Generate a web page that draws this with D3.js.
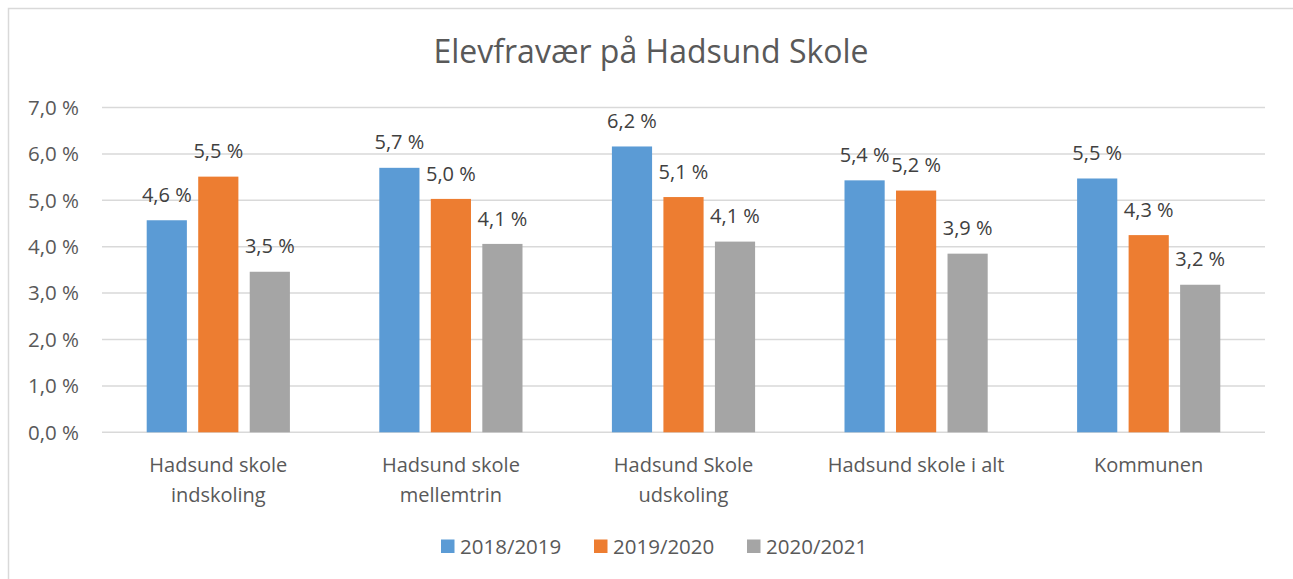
<!DOCTYPE html>
<html>
  <head>
    <meta charset="utf-8">
    <title>Elevfravær på Hadsund Skole</title>
    <script src="https://d3js.org/d3.v7.min.js"></script>
    <style>
      body { margin: 0; background: #fff; }
      text { font-family: "Open Sans", sans-serif; fill: #595959; }
    </style>
  </head>
  <body>
    <div id="chart"></div>
    <script>
      // data
      const categories = [
        ["Hadsund skole", "indskoling"],
        ["Hadsund skole", "mellemtrin"],
        ["Hadsund Skole", "udskoling"],
        ["Hadsund skole i alt"],
        ["Kommunen"]
      ];
      const seriesNames = ["2018/2019", "2019/2020", "2020/2021"];
      const colors = ["#5B9BD5", "#ED7D31", "#A5A5A5"];
      const s2018 = [4.57, 5.70, 6.16, 5.43, 5.47];
      const s2019 = [5.51, 5.03, 5.07, 5.21, 4.25];
      const s2020 = [3.46, 4.06, 4.11, 3.85, 3.18];
      const yTicks = [0, 1, 2, 3, 4, 5, 6, 7];

      const series = [s2018, s2019, s2020];
      const width = 1293, height = 579;
      const margin = { top: 107.5, right: 28, bottom: 146.7, left: 102 };

      const svg = d3.select("#chart")
        .append("svg")
          .attr("width", width)
          .attr("height", height);

      // chart frame
      svg.append("rect")
        .attr("x", 8.5)
        .attr("y", 8.5)
        .attr("width", width + 20)
        .attr("height", height + 20)
        .style("fill", "none")
        .style("stroke", "#d9d9d9")
        .style("stroke-width", 1.5);

      svg.append("text")
        .attr("x", 651)
        .attr("y", 63)
        .attr("text-anchor", "middle")
        .style("font-size", "32px")
        .text("Elevfravær på Hadsund Skole");

      const y = d3.scaleLinear()
        .domain([0, 7])
        .range([height - margin.bottom, margin.top]);
      const x0 = d3.scaleBand()
        .domain(d3.range(categories.length))
        .range([margin.left, width - margin.right]);
      const groupWidth = 143.2;
      const x1 = d3.scaleBand()
        .domain(d3.range(series.length))
        .range([0, groupWidth])
        .paddingInner(0.22);

      const fmt = function(v) { return d3.format(".1f")(v).replace(".", ",") + " %"; };

      // gridlines and y labels
      const grid = svg.append("g");
      grid.selectAll("line")
          .data(yTicks)
        .enter().append("line")
          .attr("x1", margin.left)
          .attr("x2", width - margin.right)
          .attr("y1", function(d) { return y(d); })
          .attr("y2", function(d) { return y(d); })
          .style("stroke", "#d9d9d9")
          .style("stroke-width", 1.5);
      grid.selectAll("text")
          .data(yTicks)
        .enter().append("text")
          .attr("x", 79)
          .attr("y", function(d) { return y(d); })
          .attr("dy", "0.36em")
          .attr("text-anchor", "end")
          .style("font-size", "20.5px")
          .text(fmt);

      // bars
      const groups = svg.selectAll(".group")
          .data(categories)
        .enter().append("g")
          .classed("group", true)
          .attr("transform", function(d, i) {
            return "translate(" + (x0(i) + (x0.bandwidth() - groupWidth) / 2) + ",0)";
          });
      groups.selectAll("rect")
          .data(function(d, i) { return series.map(function(s, j) { return { s: j, v: s[i] }; }); })
        .enter().append("rect")
          .attr("x", function(d) { return x1(d.s); })
          .attr("y", function(d) { return y(d.v); })
          .attr("width", x1.bandwidth())
          .attr("height", function(d) { return y(0) - y(d.v); })
          .style("fill", function(d) { return colors[d.s]; });
      groups.selectAll(".label")
          .data(function(d, i) { return series.map(function(s, j) { return { s: j, v: s[i] }; }); })
        .enter().append("text")
          .classed("label", true)
          .attr("x", function(d) { return x1(d.s) + x1.bandwidth() / 2; })
          .attr("y", function(d) { return y(d.v) - 18.4; })
          .attr("text-anchor", "middle")
          .style("font-size", "20px")
          .style("fill", "#404040")
          .text(function(d) { return fmt(d.v); });

      // category labels
      svg.selectAll(".cat")
          .data(categories)
        .enter().append("text")
          .classed("cat", true)
          .attr("x", function(d, i) { return x0(i) + x0.bandwidth() / 2; })
          .attr("y", 472)
          .attr("text-anchor", "middle")
          .style("font-size", "20px")
          .each(function(d) {
            d3.select(this).selectAll("tspan")
                .data(d)
              .enter().append("tspan")
                .attr("x", d3.select(this).attr("x"))
                .attr("dy", function(t, k) { return k ? 30 : 0; })
                .text(function(t) { return t; });
          });

      // legend
      const legendX = [441, 594, 747];
      const legend = svg.selectAll(".legend")
          .data(seriesNames)
        .enter().append("g")
          .classed("legend", true)
          .attr("transform", function(d, i) { return "translate(" + legendX[i] + ",539.5)"; });
      legend.append("rect")
        .attr("width", 13.5)
        .attr("height", 13.5)
        .style("fill", function(d, i) { return colors[i]; });
      legend.append("text")
        .attr("x", 19)
        .attr("y", 14)
        .style("font-size", "20.5px")
        .text(function(d) { return d; });
    </script>
  </body>
</html>
